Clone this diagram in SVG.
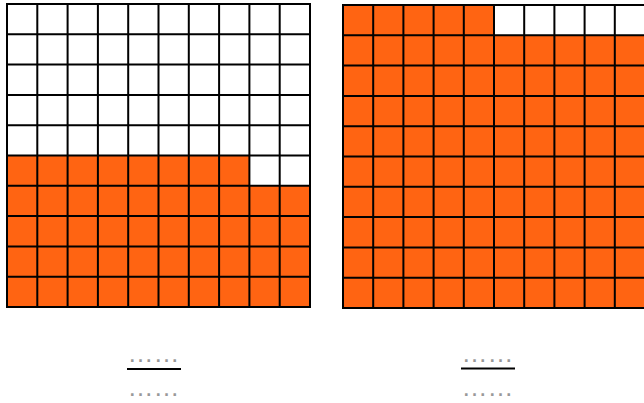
<svg xmlns="http://www.w3.org/2000/svg" width="644" height="403" viewBox="0 0 644 403">
<style>
.o{fill:#ff6412}
.g{fill:none;stroke:#000;stroke-width:2}
.d{font-family:"Liberation Sans",Arial,sans-serif;font-size:26px;fill:#999;text-anchor:middle}
.l{stroke:#000;stroke-width:2}
</style>
<rect width="644" height="403" fill="#fff"/>
<g id="grid-left">
<rect class="o" x="7" y="155.5" width="242.4" height="30.3"/>
<rect class="o" x="7" y="185.8" width="303" height="121.2"/>
<path class="g" d="M7 4H310V307H7Z M37.3 4V307 M67.6 4V307 M97.9 4V307 M128.2 4V307 M158.5 4V307 M188.8 4V307 M219.1 4V307 M249.4 4V307 M279.7 4V307 M7 34.3H310 M7 64.6H310 M7 94.9H310 M7 125.2H310 M7 155.5H310 M7 185.8H310 M7 216.1H310 M7 246.4H310 M7 276.7H310"/>
</g>
<g id="grid-right">
<rect class="o" x="343" y="5" width="151" height="30.3"/>
<rect class="o" x="343" y="35.3" width="302" height="272.7"/>
<path class="g" d="M343 5H645V308H343Z M373.2 5V308 M403.4 5V308 M433.6 5V308 M463.8 5V308 M494 5V308 M524.2 5V308 M554.4 5V308 M584.6 5V308 M614.8 5V308 M343 35.3H645 M343 65.6H645 M343 95.9H645 M343 126.2H645 M343 156.5H645 M343 186.8H645 M343 217.1H645 M343 247.4H645 M343 277.7H645"/>
</g>
<g id="fraction-left">
<text class="d" x="153.5" y="362">……</text>
<line class="l" x1="127" y1="369" x2="181" y2="369"/>
<text class="d" x="153.5" y="396">……</text>
</g>
<g id="fraction-right">
<text class="d" x="487.5" y="362">……</text>
<line class="l" x1="461" y1="368.5" x2="515" y2="368.5"/>
<text class="d" x="487.5" y="396">……</text>
</g>
</svg>
